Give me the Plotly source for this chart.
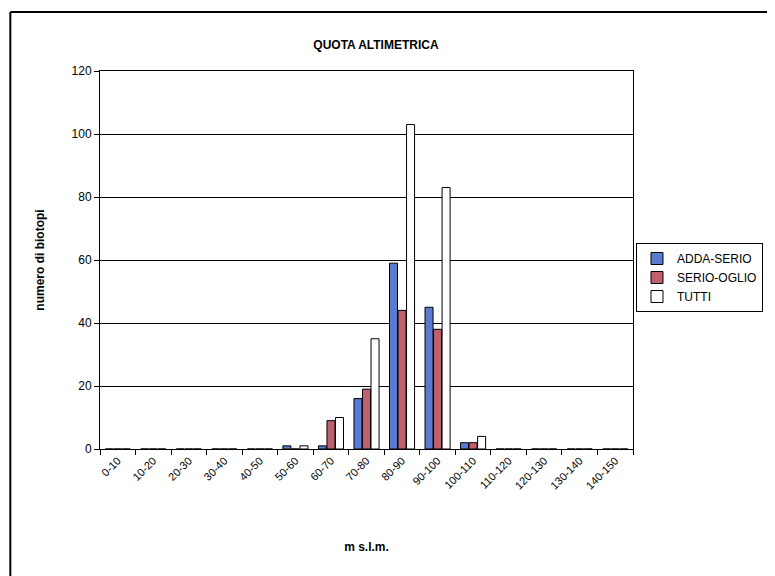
import plotly.graph_objects as go

categories = ["0-10", "10-20", "20-30", "30-40", "40-50", "50-60", "60-70", "70-80",
              "80-90", "90-100", "100-110", "110-120", "120-130", "130-140", "140-150"]
adda_serio = [0, 0, 0, 0, 0, 1, 1, 16, 59, 45, 2, 0, 0, 0, 0]
serio_oglio = [0, 0, 0, 0, 0, 0, 9, 19, 44, 38, 2, 0, 0, 0, 0]
tutti = [0, 0, 0, 0, 0, 1, 10, 35, 103, 83, 4, 0, 0, 0, 0]
y_ticks = [0, 20, 40, 60, 80, 100, 120]

OFF = 8  # default page body margin
W, H = 775 - OFF, 576 - OFF
L, R, T, B = 100 - OFF, 635 - OFF, 71 - OFF, 449 - OFF

def px(x):
    return (x - OFF - L) / (R - L)

def py(y):
    return (B - (y - OFF)) / (B - T)

fig = go.Figure()
line = dict(color="black", width=1)
fig.add_bar(name="ADDA-SERIO", x=categories, y=adda_serio, marker=dict(color="#5a7bd0", line=line))
fig.add_bar(name="SERIO-OGLIO", x=categories, y=serio_oglio, marker=dict(color="#c05f6e", line=line))
fig.add_bar(name="TUTTI", x=categories, y=tutti, marker=dict(color="white", line=line))

font = "Arial, Liberation Sans, sans-serif"
fig.update_layout(
    width=W, height=H,
    margin=dict(l=L, r=W - R, t=T, b=H - B),
    paper_bgcolor="white", plot_bgcolor="white",
    font=dict(family=font, size=12, color="black"),
    barmode="group", bargap=0.28, bargroupgap=0.06,
    title=dict(text="<b>QUOTA ALTIMETRICA</b>", x=px(377), xref="paper", xanchor="center",
               y=1 - (45 - OFF) / H, yanchor="middle", font=dict(size=12, family=font)),
    showlegend=True,
    legend=dict(x=px(638), xanchor="left", y=py(243), yanchor="top",
                bordercolor="black", borderwidth=1, bgcolor="white",
                font=dict(size=12), tracegroupgap=0, itemwidth=30),
    shapes=[
        dict(type="line", xref="paper", yref="paper", x0=px(10), x1=px(775), y0=py(12), y1=py(12),
             line=dict(color="black", width=2)),
        dict(type="line", xref="paper", yref="paper", x0=px(10), x1=px(10), y0=py(12), y1=py(576),
             line=dict(color="black", width=2)),
    ],
)
fig.update_xaxes(
    type="category", showline=True, linecolor="black", linewidth=1, mirror=True,
    ticks="outside", tickson="boundaries", ticklen=5, tickcolor="black",
    tickangle=-45, tickfont=dict(size=11),
    title=dict(text="<b>m s.l.m.</b>", font=dict(size=12), standoff=52),
    showgrid=False,
)
fig.update_yaxes(
    range=[0, 120], tickvals=y_ticks, showline=True, linecolor="black", linewidth=1, mirror=True,
    ticks="outside", ticklen=5, tickcolor="black", tickfont=dict(size=12),
    showgrid=True, gridcolor="black", gridwidth=1, zeroline=False,
    title=dict(text="<b>numero di biotopi</b>", font=dict(size=12), standoff=24),
)
fig.write_html("out.html")
